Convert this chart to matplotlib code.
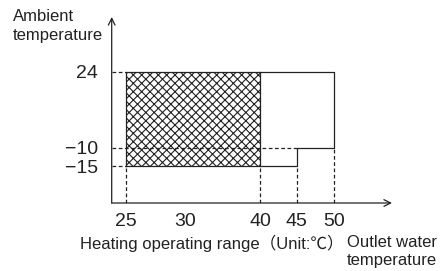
import numpy as np
import matplotlib
matplotlib.use("Agg")
import matplotlib.pyplot as plt

plt.rcParams['font.family'] = ['Liberation Sans', 'Noto Sans CJK JP', 'DejaVu Sans']
plt.rcParams['hatch.linewidth'] = 0.8

# data
x_ticks = [25, 30, 40, 45, 50]
x_tick_labels = ['25', '30', '40', '45', '50']
y_ticks = [24, -10, -15]
y_tick_labels = ['24', '\u221210', '\u221215']

heat_x = [25, 40]          # hatched (heating) block
heat_y = [-15, 24]
outline_x = [25, 25, 50, 50, 45, 45, 25]
outline_y = [-15, 24, 24, -10, -10, -15, -15]

# schematic (non linear) axes: data value -> pixel-ish units
x_anchor = [0, 25, 30, 40, 45, 50, 100]
x_units = [-170.8, 125.7, 185.0, 260.0, 296.7, 334.0, 705.5]
y_anchor = [-100, -15, -10, 24, 100]
y_units = [-482.5, -166.3, -147.7, -71.7, 98.2]

def fx(v):
    return np.interp(v, x_anchor, x_units)
def ix(v):
    return np.interp(v, x_units, x_anchor)
def fy(v):
    return np.interp(v, y_anchor, y_units)
def iy(v):
    return np.interp(v, y_units, y_anchor)

W, H = 442, 271
fig = plt.figure(figsize=(W / 100, H / 100), dpi=100)
x0, x1, y0, y1 = 111.7, 392, 203, 17
ax = fig.add_axes([x0 / W, (H - y0) / H, (x1 - x0) / W, (y0 - y1) / H])
ax.set_xscale('function', functions=(fx, ix))
ax.set_yscale('function', functions=(fy, iy))
xmin, xmax = ix(x0), ix(x1)
ymin, ymax = iy(-y0), iy(-y1)
ax.set_xlim(xmin, xmax)
ax.set_ylim(ymin, ymax)
ax.patch.set_alpha(0)

lc = '#222222'
lw = 0.9

# hatched block
ax.fill_between(heat_x, heat_y[0], heat_y[1], facecolor='white', edgecolor=lc,
                hatch='xxxx', linewidth=0)
# outline of the range
ax.plot(outline_x, outline_y, color=lc, lw=lw)
ax.plot([heat_x[1], heat_x[1]], heat_y, color=lc, lw=lw)

# dashed guide lines
dash = dict(color=lc, lw=lw, ls=(0, (3, 2)))
ax.plot([xmin, 25], [24, 24], **dash)
ax.plot([xmin, 45], [-10, -10], **dash)
ax.plot([xmin, 25], [-15, -15], **dash)
for xv in [25, 40, 45]:
    ax.plot([xv, xv], [ymin, -15], **dash)
ax.plot([50, 50], [ymin, -10], **dash)

# axes with arrows
for s in ax.spines.values():
    s.set_visible(False)
arrow = dict(arrowstyle='->', color=lc, lw=lw, mutation_scale=12, shrinkA=0, shrinkB=0)
ax.annotate('', xy=(1, 0), xytext=(0, 0), xycoords='axes fraction', arrowprops=arrow)
ax.annotate('', xy=(0, 1), xytext=(0, 0), xycoords='axes fraction', arrowprops=arrow)

ax.set_xticks(x_ticks)
ax.set_xticklabels(x_tick_labels)
ax.set_xticks([30], minor=True)
ax.tick_params(axis='x', which='major', length=0, pad=7, labelsize=14, labelcolor='#222222')
ax.tick_params(axis='x', which='minor', direction='in', length=4, width=lw, color=lc)
ax.set_yticks(y_ticks)
ax.set_yticklabels(y_tick_labels)
ax.set_yticks([], minor=True)
ax.tick_params(axis='y', which='major', length=0, pad=10, labelsize=14, labelcolor='#222222')

fig.text(13 / W, 1 - 9 / H, 'Ambient\ntemperature', ha='left', va='top', fontsize=12,
         color='#222222', linespacing=1.3)
fig.text(80 / W, 1 - 243 / H, 'Heating operating range\uff08Unit:\u2103\uff09', ha='left', va='center',
         fontsize=12, color='#222222')
fig.text(347 / W, 1 - 235 / H, 'Outlet water\ntemperature', ha='left', va='top', fontsize=12,
         color='#222222', linespacing=1.25)

fig.savefig('out.png', dpi=100)
